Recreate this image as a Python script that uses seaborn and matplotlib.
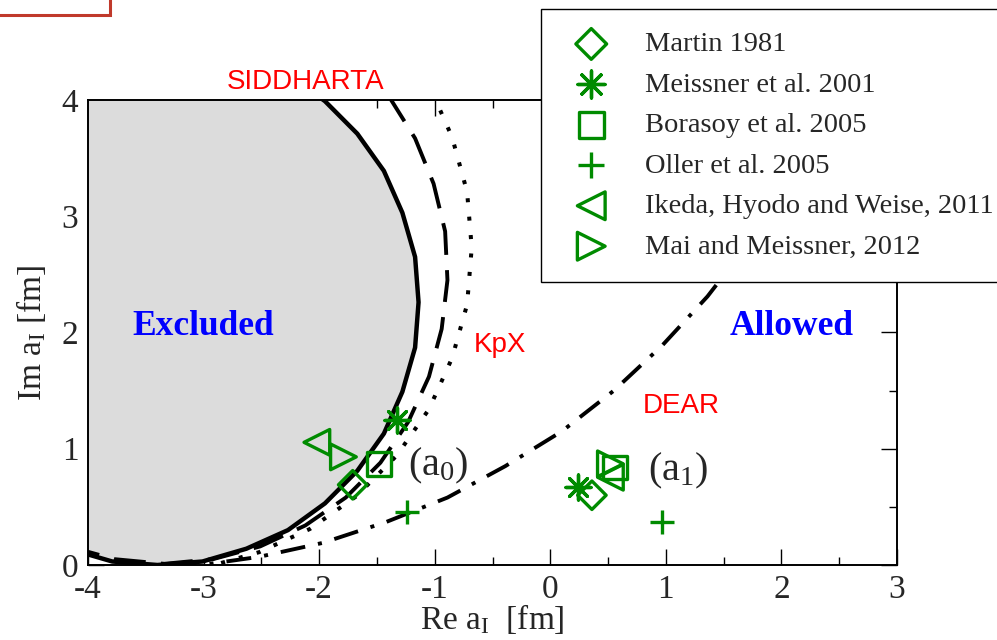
import matplotlib
matplotlib.use('Agg')
import matplotlib.pyplot as plt
from matplotlib.patches import Rectangle
from matplotlib.ticker import MultipleLocator
import seaborn as sns

# scattering lengths (fm) of the calculations, one a0 and one a1 point each
studies = ['Martin 1981', 'Meissner et al. 2001', 'Borasoy et al. 2005',
           'Oller et al. 2005', 'Ikeda, Hyodo and Weise, 2011', 'Mai and Meissner, 2012']
re_a0 = [-1.71, -1.33, -1.48, -1.24, -2.02, -1.79]
im_a0 = [0.69, 1.25, 0.87, 0.455, 1.055, 0.93]
re_a1 = [0.36, 0.24, 0.56, 0.97, 0.52, 0.52]
im_a1 = [0.60, 0.67, 0.84, 0.37, 0.755, 0.87]

sid_re = [-4.17, -3.79, -3.40, -3.01, -2.63, -2.27, -1.95, -1.67, -1.44, -1.28,
          -1.17, -1.14, -1.17, -1.28, -1.44, -1.67, -1.95, -2.27]
sid_im = [0.14, 0.03, 0.00, 0.03, 0.14, 0.30, 0.53, 0.81, 1.13, 1.49,
          1.87, 2.26, 2.65, 3.03, 3.39, 3.71, 3.99, 4.22]
kpx_re = [-4.17, -3.77, -3.34, -2.92, -2.51, -2.12, -1.77, -1.47, -1.23, -1.05,
          -0.94, -0.89, -0.91, -1.01, -1.17, -1.39, -1.60]
kpx_im = [0.16, 0.05, 0.01, 0.05, 0.16, 0.34, 0.58, 0.88, 1.23, 1.62,
          2.03, 2.45, 2.87, 3.28, 3.67, 4.02, 4.30]
dot_re = [-4.42, -3.96, -3.47, -2.98, -2.52, -2.08, -1.68, -1.33, -1.05, -0.85,
          -0.72, -0.68, -0.72, -0.85, -1.05]
dot_im = [0.11, -0.02, -0.06, -0.02, 0.11, 0.31, 0.59, 0.94, 1.34, 1.78,
          2.24, 2.73, 3.21, 3.68, 4.13]
dear_re = [-4.23, -3.66, -3.09, -2.52, -1.97, -1.42, -0.89, -0.39, 0.10, 0.55,
           0.97, 1.36, 1.71, 2.01]
dear_im = [-0.01, -0.03, -0.01, 0.07, 0.19, 0.37, 0.58, 0.85, 1.15, 1.50,
           1.89, 2.31, 2.76, 3.25]

x_lim = (-4, 3)
y_lim = (0, 4)

green = '#008b00'
markers = ['D', (8, 2, 0), 's', '+', '<', '>']
msizes = [14.5, 18, 17, 17, 18.5, 18.5]

sns.set_theme(style='ticks')
plt.rcParams['font.family'] = ['Liberation Serif', 'DejaVu Serif']
plt.rcParams['mathtext.fontset'] = 'custom'
plt.rcParams['mathtext.rm'] = 'Liberation Serif'
plt.rcParams['mathtext.it'] = 'Liberation Serif:italic'
plt.rcParams['axes.unicode_minus'] = False
plt.rcParams['lines.scale_dashes'] = False

fig = plt.figure(figsize=(9.97, 6.4), dpi=100)
ax = fig.add_axes([0.0883, 0.1172, 0.8114, 0.7266])

# excluded region: inside the SIDDHARTA circle
ax.fill(sid_re + [x_lim[0] - 0.5], sid_im + [y_lim[1] + 0.5], color='#dcdcdc', lw=0, zorder=1)

sns.lineplot(x=sid_re, y=sid_im, sort=False, estimator=None, color='black',
             linewidth=3.2, ax=ax, zorder=2)
sns.lineplot(x=kpx_re, y=kpx_im, sort=False, estimator=None, color='black', linewidth=2.8,
             linestyle=(0, (23, 11)), ax=ax, zorder=2)
sns.lineplot(x=dot_re, y=dot_im, sort=False, estimator=None, color='black', linewidth=2.9,
             linestyle=(0, (2.9, 10.4)), ax=ax, zorder=2)
sns.lineplot(x=dear_re, y=dear_im, sort=False, estimator=None, color='black', linewidth=2.8,
             linestyle=(0, (18, 9.4, 2.9, 9.4)), ax=ax, zorder=2)

for i, name in enumerate(studies):
    m = markers[i]
    kw = dict(color=green)
    if m in ('D', 's', '<', '>'):
        kw.update(facecolor='none', edgecolor=green)
    sns.scatterplot(x=[re_a0[i], re_a1[i]], y=[im_a0[i], im_a1[i]], marker=m,
                    s=msizes[i] ** 2, linewidth=2.4, label=name, legend=False,
                    ax=ax, zorder=3, **kw)

ax.set_xlim(*x_lim)
ax.set_ylim(*y_lim)
ax.xaxis.set_major_locator(MultipleLocator(1))
ax.yaxis.set_major_locator(MultipleLocator(1))
ax.xaxis.set_minor_locator(MultipleLocator(0.5))
ax.yaxis.set_minor_locator(MultipleLocator(0.5))
ax.tick_params(which='both', direction='in', top=True, right=True, width=1, color='black')
ax.tick_params(which='major', length=11.5, labelsize=24, pad=7)
ax.tick_params(which='minor', length=5.8)
for sp in ax.spines.values():
    sp.set_linewidth(1.4)
    sp.set_color('black')

ax.set_xlabel(r'Re a$_{\rm I}$  [fm]', fontsize=24, labelpad=-2)
ax.set_ylabel(r'Im a$_{\rm I}$ [fm]', fontsize=24, labelpad=10)

# annotations
red_font = ['Liberation Sans', 'DejaVu Sans']
ax.text(-2.12, 4.094, 'SIDDHARTA', color='red', fontsize=20, family=red_font,
        ha='center', va='baseline', clip_on=False)
ax.text(-0.44, 1.83, 'KpX', color='red', fontsize=20, family=red_font, ha='center', va='baseline')
ax.text(1.13, 1.305, 'DEAR', color='red', fontsize=20, family=red_font, ha='center', va='baseline')
ax.text(-3.0, 1.975, 'Excluded', color='blue', fontsize=25.5, fontweight='bold', ha='center', va='baseline')
ax.text(2.09, 1.975, 'Allowed', color='blue', fontsize=25.5, fontweight='bold', ha='center', va='baseline')
ax.text(-1.23, 0.77, r'(a$_{0}$)', fontsize=29, ha='left', va='baseline')
ax.text(0.845, 0.73, r'(a$_{1}$)', fontsize=29, ha='left', va='baseline')

leg = ax.legend(loc='upper left', bbox_to_anchor=(541 / 997, 1 - 9 / 640),
                bbox_transform=fig.transFigure, borderaxespad=0, fontsize=20.5,
                scatterpoints=1, markerscale=1.08, frameon=True, fancybox=False,
                framealpha=1, edgecolor='black', borderpad=0.79, labelspacing=0.51,
                handlelength=1.95, handletextpad=0.91)
leg.get_frame().set_linewidth(1.0)
leg.set_zorder(10)

fig.patches.append(Rectangle((-0.01, 1 - 15 / 640), 110 / 997 + 0.01, 0.2,
                             transform=fig.transFigure, fill=False,
                             edgecolor='#c0392b', lw=2.2))

fig.savefig('out.png', dpi=100)
